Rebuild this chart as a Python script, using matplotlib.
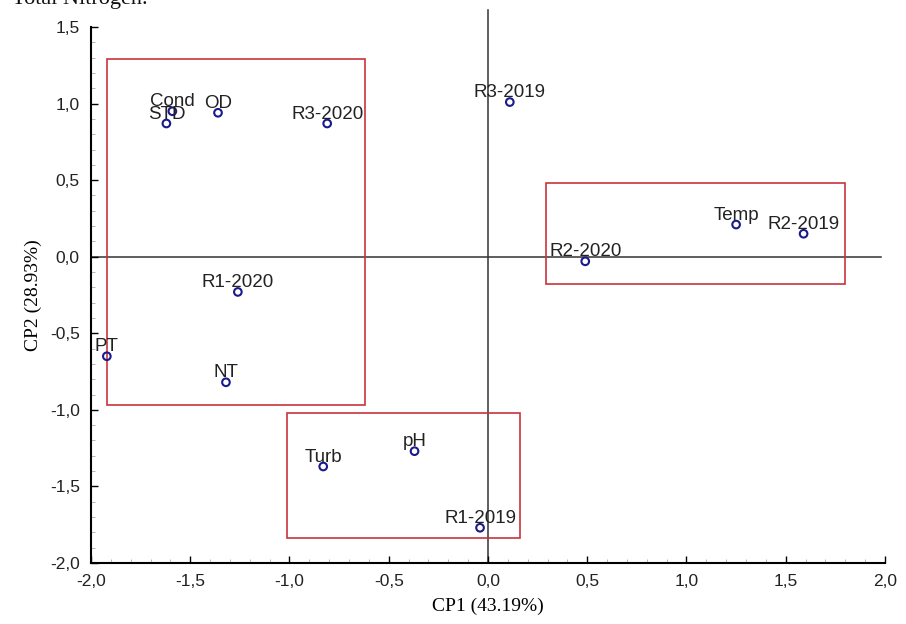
import matplotlib.pyplot as plt
from matplotlib.patches import Rectangle
from matplotlib.ticker import MultipleLocator, FuncFormatter

names = ['Cond', 'STD', 'OD', 'R3-2020', 'R3-2019', 'Temp', 'R2-2019', 'R2-2020',
         'R1-2020', 'PT', 'NT', 'Turb', 'pH', 'R1-2019']
cp1 = [-1.59, -1.62, -1.36, -0.81, 0.11, 1.25, 1.59, 0.49,
       -1.26, -1.92, -1.32, -0.83, -0.37, -0.04]
cp2 = [0.95, 0.87, 0.94, 0.87, 1.01, 0.21, 0.15, -0.03,
       -0.23, -0.65, -0.82, -1.37, -1.27, -1.77]

# groups (x0, y0, x1, y1)
boxes = [(-1.92, -0.97, -0.62, 1.29),
         (0.29, -0.18, 1.80, 0.48),
         (-1.01, -1.84, 0.16, -1.02)]

fig = plt.figure(figsize=(9.06, 6.24), dpi=100)
ax = fig.add_axes([0.1004, 0.0978, 0.8764, 0.8589])

ax.plot([-2, 1.98], [0, 0], color='#333333', lw=1.1, zorder=1)
ax.plot([0, 0], [-2, 1.61], color='#333333', lw=1.1, zorder=1, clip_on=False)

for x0, y0, x1, y1 in boxes:
    ax.add_patch(Rectangle((x0, y0), x1 - x0, y1 - y0, fill=False,
                           edgecolor='#c8343c', lw=1.2, zorder=2))

ax.scatter(cp1, cp2, s=30, facecolors='none', edgecolors='#1a1a8c',
           linewidths=1.5, zorder=4)
for n, x, y in zip(names, cp1, cp2):
    ax.annotate(n, (x, y), xytext=(0, 3.5), textcoords='offset points',
                ha='center', va='baseline', fontsize=13.5,
                family='Liberation Sans', color='#222222', zorder=5)

ax.set_xlim(-2, 2)
ax.set_ylim(-2, 1.5)
ax.xaxis.set_major_locator(MultipleLocator(0.5))
ax.yaxis.set_major_locator(MultipleLocator(0.5))
ax.xaxis.set_minor_locator(MultipleLocator(0.1))
ax.yaxis.set_minor_locator(MultipleLocator(0.1))
fmt = FuncFormatter(lambda v, p: f'{v:.1f}'.replace('.', ',').replace('-0,0', '0,0'))
ax.xaxis.set_major_formatter(fmt)
ax.yaxis.set_major_formatter(fmt)
ax.tick_params(which='major', direction='in', length=5, width=1, color='black',
               labelsize=12.5, labelcolor='#222222', pad=8)
ax.tick_params(which='minor', direction='in', length=3, width=0.6, color='#aaaaaa')
for lab in ax.get_xticklabels() + ax.get_yticklabels():
    lab.set_family('Liberation Sans')

for s in ['top', 'right']:
    ax.spines[s].set_visible(False)
for s in ['left', 'bottom']:
    ax.spines[s].set_linewidth(1.5)

ax.set_xlabel('CP1 (43.19%)', family='Liberation Serif', fontsize=14, labelpad=6)
ax.set_ylabel('CP2 (28.93%)', family='Liberation Serif', fontsize=14, labelpad=6)

# remnant of the caption line above the chart
fig.text(0.013, 1 - 4 / 624, 'Total Nitrogen.', family='Liberation Serif',
         fontsize=16, va='baseline', color='#111111')

fig.savefig('out.png', dpi=100)
